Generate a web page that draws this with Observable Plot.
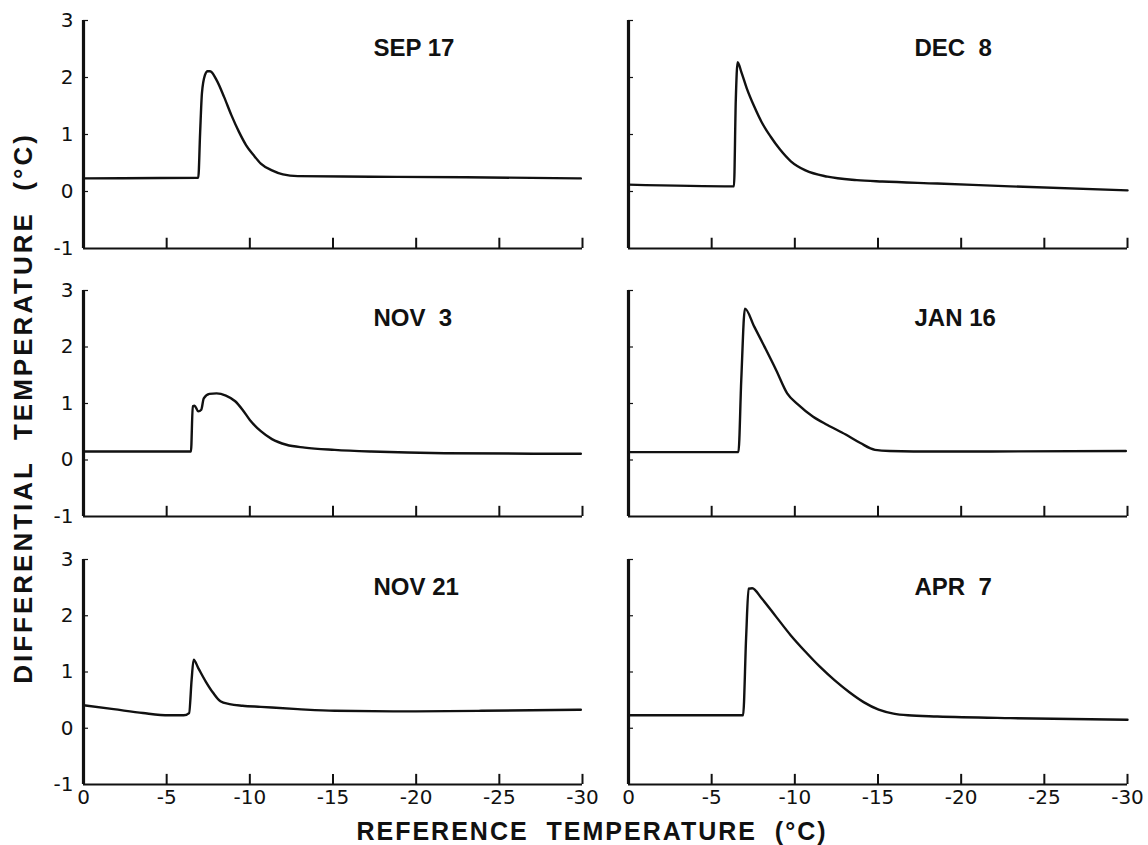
<!DOCTYPE html>
<html>
<head>
<meta charset="utf-8">
<script src="https://cdn.jsdelivr.net/npm/d3@7"></script>
<script src="https://cdn.jsdelivr.net/npm/@observablehq/plot@0.6"></script>
<style>
  body { margin: 0; background: #fff; }
  #wrap { position: relative; width: 1148px; height: 845px; background: #fff; overflow: hidden;
          font-family: "Liberation Sans", Arial, sans-serif; color: #111; }
  .panel { position: absolute; }
  .panel svg { overflow: visible; }
  .panel text { white-space: pre; }
  #xlab { position: absolute; left: 592px; top: 819px; transform: translateX(-50%);
          font-size: 25px; font-weight: bold; line-height: 1; letter-spacing: 2px; white-space: pre; }
  #ylab { position: absolute; left: 23px; top: 408px; transform: translate(-50%, -50%) rotate(-90deg);
          font-size: 26px; font-weight: bold; line-height: 1; letter-spacing: 3px; white-space: pre; }
</style>
</head>
<body>
<div id="wrap">
  <div id="ylab"></div>
  <div id="xlab"></div>
</div>
<script>
// ---- tick values and labels ----
const xTicks = [0, -5, -10, -15, -20, -25, -30];
const xTickLabels = ["0", "-5", "-10", "-15", "-20", "-25", "-30"];
const yTicks = [-1, 0, 1, 2, 3];
const yTickLabels = ["-1", "0", "1", "2", "3"];
const xLabel = "REFERENCE  TEMPERATURE  (°C)";
const yLabel = "DIFFERENTIAL  TEMPERATURE  (°C)";
const panelTitles = ["SEP 17", "DEC  8", "NOV  3", "JAN 16", "NOV 21", "APR  7"];

// ---- series (reference temperature, differential temperature) ----
const sep17X = [0, -6.9, -7.01, -7.12, -7.3, -7.46, -7.61, -8.01, -8.45, -8.89, -9.34, -9.78, -10.22, -10.66, -11.33, -11.99, -12.88, -17.3, -23, -29.9];
const sep17Y = [0.23, 0.24, 1.02, 1.72, 2.04, 2.11, 2.11, 1.95, 1.66, 1.34, 1.05, 0.81, 0.64, 0.49, 0.37, 0.30, 0.27, 0.26, 0.25, 0.23];

const dec8X = [0, -6.34, -6.45, -6.56, -6.78, -7.11, -7.56, -8.0, -8.55, -9.1, -9.76, -10.64, -11.96, -13.72, -15.26, -18.57, -22.97, -30];
const dec8Y = [0.12, 0.09, 1.6, 2.27, 2.10, 1.81, 1.49, 1.22, 0.96, 0.74, 0.53, 0.37, 0.26, 0.20, 0.175, 0.14, 0.09, 0.02];

const nov3X = [0, -6.46, -6.57, -6.68, -6.9, -7.08, -7.23, -7.57, -8.0, -8.56, -9.12, -9.56, -10.0, -10.66, -11.33, -12.2, -13.3, -15.1, -17.3, -21.7, -29.9];
const nov3Y = [0.15, 0.15, 0.95, 0.96, 0.86, 0.89, 1.09, 1.17, 1.18, 1.14, 1.04, 0.89, 0.71, 0.51, 0.37, 0.27, 0.22, 0.18, 0.15, 0.12, 0.11];

const jan16X = [0, -6.61, -6.78, -7.0, -7.56, -8.22, -8.88, -9.54, -10.2, -11.08, -11.96, -13.06, -13.94, -14.82, -15.7, -18.57, -29.9];
const jan16Y = [0.14, 0.14, 1.42, 2.68, 2.36, 1.98, 1.59, 1.18, 0.98, 0.77, 0.62, 0.45, 0.30, 0.18, 0.16, 0.15, 0.16];

const nov21X = [0, -1.81, -3.58, -5.13, -6.02, -6.35, -6.5, -6.62, -6.9, -7.35, -7.79, -8.23, -8.78, -9.56, -10.66, -12.88, -15.1, -19.5, -23.9, -29.9];
const nov21Y = [0.41, 0.34, 0.27, 0.23, 0.23, 0.27, 0.86, 1.22, 1.07, 0.83, 0.63, 0.48, 0.43, 0.40, 0.38, 0.34, 0.31, 0.30, 0.31, 0.33];

const apr7X = [0, -6.89, -7.07, -7.22, -7.44, -8.0, -8.88, -9.76, -10.64, -11.52, -12.4, -13.28, -14.16, -15.04, -15.93, -16.8, -18.57, -22.97, -30];
const apr7Y = [0.23, 0.23, 1.6, 2.48, 2.49, 2.31, 1.98, 1.65, 1.36, 1.09, 0.85, 0.64, 0.46, 0.33, 0.26, 0.23, 0.21, 0.18, 0.15];

const seriesX = [sep17X, dec8X, nov3X, jan16X, nov21X, apr7X];
const seriesY = [sep17Y, dec8Y, nov3Y, jan16Y, nov21Y, apr7Y];

// ---- layout ----
const cols = [
  {left: 0, width: 600, marginLeft: 83, marginRight: 18, titleDx: 290},
  {left: 588, width: 560, marginLeft: 40, marginRight: 21, titleDx: 286}
];
const rows = [
  {top: 0, marginTop: 20, inner: 228, marginBottom: 12},
  {top: 262, marginTop: 28, inner: 226, marginBottom: 10},
  {top: 530, marginTop: 29, inner: 225, marginBottom: 30}
];

const ink = "#111";
const tickFont = "DejaVu Sans";
const wrap = document.getElementById("wrap");
document.getElementById("xlab").textContent = xLabel;
document.getElementById("ylab").textContent = yLabel;

panelTitles.forEach((title, i) => {
  const c = cols[i % 2];
  const r = rows[Math.floor(i / 2)];
  const isLeft = i % 2 === 0;
  const isBottom = Math.floor(i / 2) === 2;
  const data = seriesX[i].map((x, j) => ({t: x, v: seriesY[i][j]}));

  const marks = [
    Plot.ruleY([-1], {stroke: ink, strokeWidth: 2}),
    Plot.ruleX([0], {stroke: ink, strokeWidth: 3.2}),
    Plot.ruleX(xTicks.filter(d => d !== 0), {x: d => d, y1: () => -1, y2: () => -0.82, stroke: ink, strokeWidth: 2}),
    Plot.ruleY(yTicks.filter(d => d !== -1), {y: d => d, x1: () => 0, x2: () => -0.3, stroke: ink, strokeWidth: 1.2}),
    Plot.line(data, {x: "t", y: "v", curve: "monotone-x", stroke: ink, strokeWidth: 2.4, strokeLinejoin: "round"}),
    Plot.text([title], {frameAnchor: "top-left", dx: c.titleDx, dy: 28, textAnchor: "start", lineAnchor: "middle",
      fontSize: 24, fontWeight: "bold", fill: ink, letterSpacing: 2.5})
  ];
  if (isLeft) {
    marks.push(Plot.text(yTicks, {y: d => d, text: d => yTickLabels[yTicks.indexOf(d)], frameAnchor: "left",
      dx: -10, textAnchor: "end", lineAnchor: "middle", fontSize: 20, fontFamily: tickFont, fill: ink}));
  }
  if (isBottom) {
    marks.push(Plot.text(xTicks, {x: d => d, text: d => xTickLabels[xTicks.indexOf(d)], frameAnchor: "bottom",
      dy: 13, textAnchor: "middle", lineAnchor: "middle", fontSize: 20, fontFamily: tickFont, fill: ink}));
  }

  const svg = Plot.plot({
    width: c.width,
    height: r.marginTop + r.inner + r.marginBottom,
    marginLeft: c.marginLeft,
    marginRight: c.marginRight,
    marginTop: r.marginTop,
    marginBottom: r.marginBottom,
    x: {domain: [0, -30], axis: null},
    y: {domain: [-1, 3], axis: null},
    style: {background: "transparent", fontFamily: "'Liberation Sans', Arial, sans-serif", color: ink, overflow: "visible"},
    marks
  });
  const div = document.createElement("div");
  div.className = "panel";
  div.style.left = c.left + "px";
  div.style.top = r.top + "px";
  div.appendChild(svg);
  wrap.appendChild(div);
});
</script>
</body>
</html>
